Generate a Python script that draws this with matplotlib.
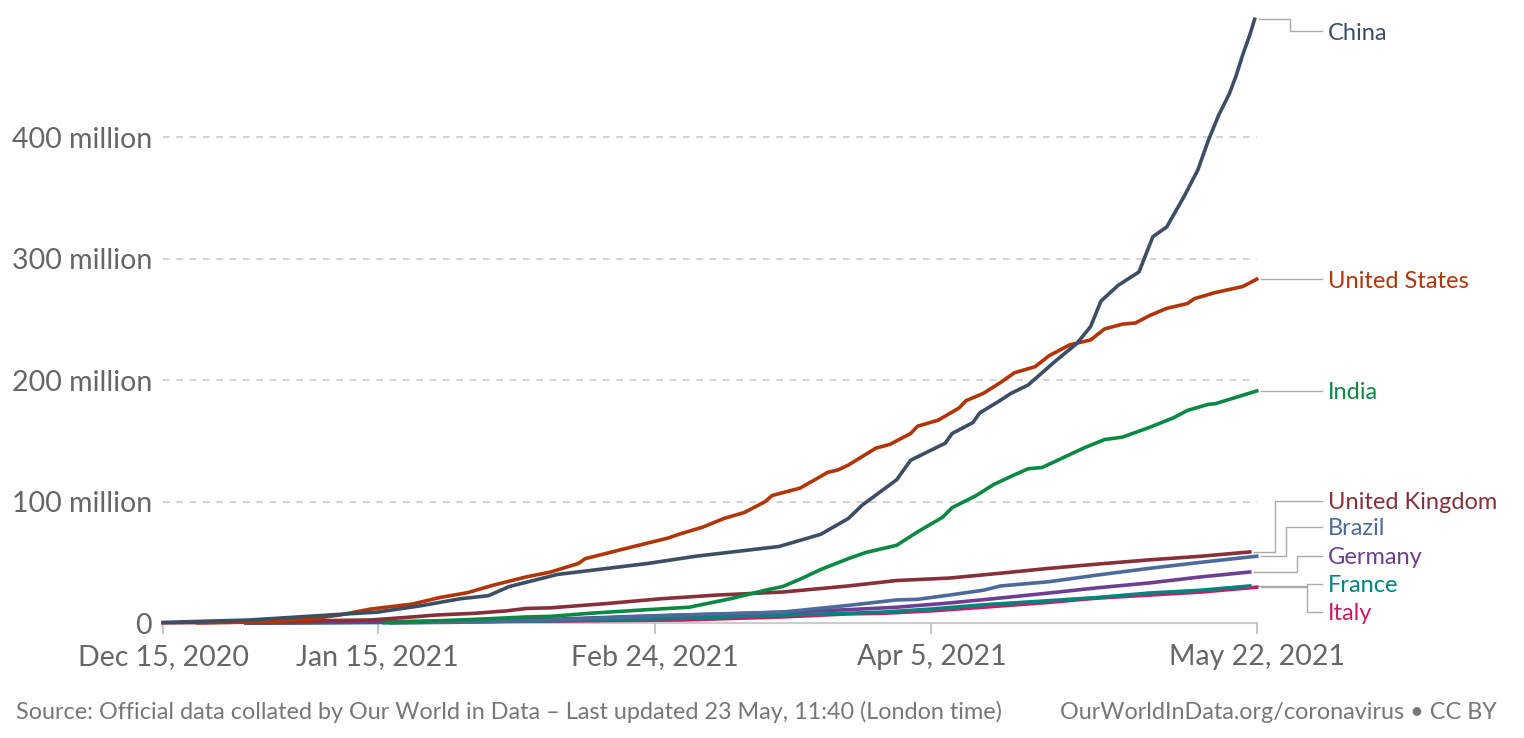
import numpy as np
import matplotlib.pyplot as plt

# days since Dec 15, 2020 -> people vaccinated (millions)
china_day = [0, 12.5, 24, 31, 37, 43, 47, 50, 57, 70, 77, 89, 95, 99, 101, 106, 108, 110.5, 113, 114,
             117, 118, 120.6, 122.5, 125, 127, 129, 132, 134, 135.5, 138, 141, 143, 145, 147.5, 149.5,
             151, 152.5, 154, 155, 156, 157, 157.7]
china_val = [0.5, 2.5, 6.6, 9, 14, 20, 22.5, 30, 40, 49, 55, 63, 73, 86, 97, 118, 134, 141, 148, 156,
             165, 173, 182, 189, 196, 206, 216, 230, 244, 265, 278, 289, 318, 326, 351, 373,
             397, 418, 435, 450, 468, 484, 497]

us_day = [5, 15, 21, 25.5, 30, 36, 40, 44, 47.6, 52.5, 56, 60, 61, 68, 73, 74.5, 78, 81, 84, 87, 88,
          92, 94.5, 96, 97.5, 99, 103, 105, 108, 109, 112, 115, 116, 118.5, 121, 123, 126, 128, 131,
          134, 136, 138.6, 140.5, 142.5, 145, 148, 149, 152, 156, 158]
us_val = [0.1, 1, 3, 6.6, 11.5, 15.6, 21, 25, 31, 38, 42, 49, 53, 63, 70, 73, 79, 86, 91, 100, 105,
          111, 119, 124, 126, 130, 144, 147, 156, 162, 167, 177, 183, 189, 198, 206, 211, 220, 229,
          233, 242, 246, 247, 253, 259, 263, 267, 272, 277, 283]

india_day = [32, 45, 52.5, 56, 61.6, 70, 76, 82, 87, 89.5, 92, 95, 99, 101.5, 106, 109, 112.6, 114,
             117.5, 120, 123, 125, 127, 133, 136, 138.6, 142.5, 146, 148, 151, 152, 158]
india_val = [0.2, 3, 5, 5.5, 8, 11, 13, 20, 27, 30, 36, 44, 53, 58, 64, 75, 87, 95,
             105, 114, 122, 127, 128, 144, 151, 153, 161, 169, 175, 180, 180.5, 191]

uk_day = [0, 17, 26, 30, 36, 39.5, 45, 49.6, 52.5, 56, 64, 72, 80, 89.5, 99, 106, 113.6, 121, 128,
          135, 142.5, 150, 157]
uk_val = [0.1, 1, 2.2, 2.5, 5, 6.6, 8, 10, 12, 12.5, 16, 20, 23, 25.5, 30.5, 35, 37, 41, 45,
          48.5, 52, 55, 58.5]

brazil_day = [33, 45, 56, 75, 89.5, 99, 106, 109, 113.6, 118.5, 121, 128, 135, 142.5, 150, 158]
brazil_val = [0, 0.8, 2.5, 6.6, 9, 14.5, 19, 19.5, 23, 27, 30.5, 34, 39.5, 45, 50, 55]

germany_day = [12, 31, 45, 56, 70, 84.6, 99, 106, 113.6, 121, 128, 135, 142.5, 150, 157]
germany_val = [0, 1, 2, 3, 5.8, 8, 11, 13, 16.5, 20.6, 24.7, 29, 33, 38, 42]

france_day = [12, 31, 45, 56, 75, 89.5, 99, 104, 111, 118.5, 128, 135, 142.5, 150, 157]
france_val = [0, 0.4, 1.2, 1.8, 4, 6.6, 8, 9, 11.5, 15, 18.4, 21, 24.7, 27, 30.5]

italy_day = [12, 31, 45, 56, 75, 89.5, 99, 104, 111, 118.5, 128, 135, 142.5, 150, 158]
italy_val = [0, 0.7, 1.2, 1.6, 2.5, 5, 7.5, 8, 10, 13, 17, 20.5, 23, 25.5, 29.5]

names = ["China", "United States", "India", "United Kingdom", "Brazil", "Germany", "France", "Italy"]
colors = ["#3C4E66", "#B13507", "#0A8943", "#883039", "#4C6A9C", "#6D3E91", "#00847E", "#D01A66"]
days = [china_day, us_day, india_day, uk_day, brazil_day, germany_day, france_day, italy_day]
vals = [china_val, us_val, india_val, uk_val, brazil_val, germany_val, france_val, italy_val]

# where the right-hand labels sit, and where their connector elbows
label_y = [487, 283, 191, 100.7, 79, 55.5, 32.5, 9]
elbow_x = [162.8, 161, 161, 160.6, 162.2, 163.8, 165.2, 165.2]

tick_days = [0, 31, 71, 111, 158]
tick_labels = ["Dec 15, 2020", "Jan 15, 2021", "Feb 24, 2021", "Apr 5, 2021", "May 22, 2021"]
y_ticks = [0, 100, 200, 300, 400]
y_labels = ["0", "100 million", "200 million", "300 million", "400 million"]

plt.rcParams['font.family'] = ['Lato', 'DejaVu Sans']

fig = plt.figure(figsize=(15.24, 7.38), dpi=100)
ax = fig.add_axes([0.107, 0.1558, 0.7176, 0.8198])
ax.set_xlim(0, 158)
ax.set_ylim(0, 498)

for yt in y_ticks[1:]:
    ax.plot([0, 158], [yt, yt], color="#CCCCCC", lw=1.2, ls=(0, (4, 4)), zorder=1)
ax.plot([0, 158], [0, 0], color="#CCCCCC", lw=1.5, zorder=1, clip_on=False)

# draw lower lines first so the big ones sit on top
for i in reversed(range(len(names))):
    ax.plot(days[i], vals[i], color=colors[i], lw=2.6, zorder=3 + (len(names) - i),
            clip_on=False, solid_joinstyle="round")

for i in range(len(names)):
    x_end = days[i][-1] + 0.6
    y_end = vals[i][-1]
    ex = elbow_x[i]
    ax.plot([x_end, ex, ex, 167.5], [y_end, y_end, label_y[i], label_y[i]],
            color="#AAAAAA", lw=1, clip_on=False, zorder=2)
    ax.text(168.3, label_y[i] - 1.5, names[i], color=colors[i], fontsize=17,
            va="center", ha="left")

for s in ax.spines.values():
    s.set_visible(False)
ax.set_xticks(tick_days)
ax.set_xticklabels(tick_labels)
ax.set_yticks(y_ticks)
ax.set_yticklabels(y_labels)
ax.tick_params(axis="x", length=8, color="#BBBBBB", width=1.2, labelsize=20.5,
               labelcolor="#666666", pad=7)
ax.tick_params(axis="y", length=0, labelsize=20.5, labelcolor="#666666", pad=8)

fig.text(0.0105, 0.035, "Source: Official data collated by Our World in Data \u2013 Last updated 23 May, 11:40 (London time)",
         fontsize=16.8, color="#777777", ha="left", va="center")
fig.text(0.982, 0.035, "OurWorldInData.org/coronavirus \u2022 CC BY",
         fontsize=16.8, color="#777777", ha="right", va="center")

fig.savefig("out.png", dpi=100)
